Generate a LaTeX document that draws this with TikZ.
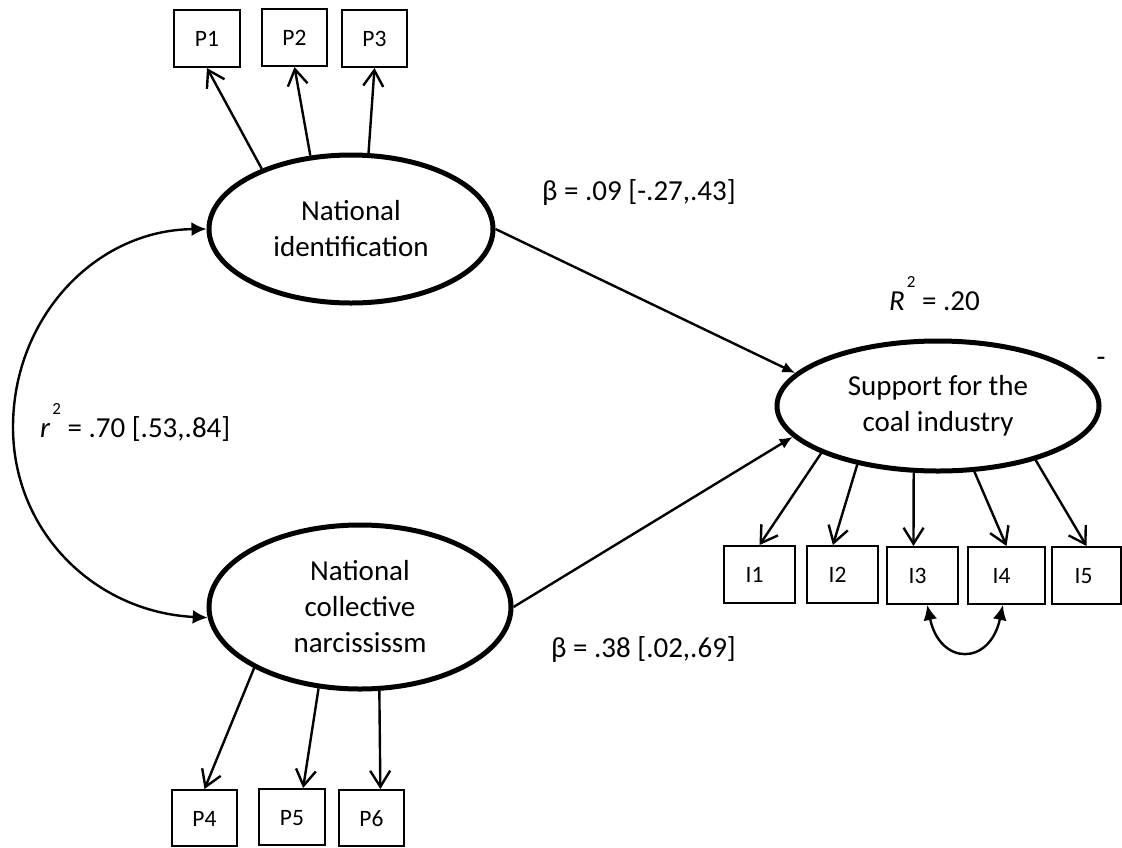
\documentclass[tikz,border=0pt]{standalone}
\usepackage{fontspec}
\setmainfont{Carlito}
\usetikzlibrary{shapes.geometric,arrows.meta,calc}

\tikzset{
  latent/.style={ellipse, draw, line width=5pt, inner sep=0pt, align=center,
    font=\fontsize{29}{36}\selectfont},
  obs/.style={rectangle, draw, line width=2pt, inner sep=0pt,
    minimum width=65pt, minimum height=57pt, text height=16pt, text depth=0pt,
    font=\fontsize{23.5}{27}\selectfont},
  loadarrow/.style={line width=2.4pt, -{Straight Barb[length=16pt,width=20pt]}},
  regpath/.style={line width=2.4pt, -{Latex[length=13pt,width=11pt]}},
  covarc/.style={line width=2.4pt, {Latex[length=15pt,width=14pt]}-{Latex[length=15pt,width=14pt]}},
  lbl/.style={inner sep=0pt, font=\fontsize{29}{36}\selectfont},
}
% raised, small "2" after an italic letter
\newcommand{\supii}{\hspace{2pt}\raisebox{23pt}{\fontsize{17}{17}\selectfont 2}}

\begin{document}
\begin{tikzpicture}[x=1pt, y=-1pt]
\useasboundingbox (0,0) rectangle (1122,847);

% latent variables
\node[latent, minimum width=284pt, minimum height=148pt] (NI) at (351,229) {National\\identification};
\node[latent, minimum width=302pt, minimum height=164pt] (NCN) at (360,607) {National\\collective\\narcississm};
\node[latent, minimum width=322pt, minimum height=130pt] (SC) at (938,406) {Support for the\\coal industry};

% indicators
\node[obs, minimum width=66pt] (P1) at (207,38.5) {P1};
\node[obs] (P2) at (294.5,37.5) {P2};
\node[obs] (P3) at (374.5,38.5) {P3};
\node[obs, minimum height=56pt] (P4) at (204.5,818) {P4};
\node[obs, minimum width=66pt, minimum height=56pt] (P5) at (292,817) {P5};
\node[obs, minimum height=56pt] (P6) at (371.5,818) {P6};
\node[obs, minimum width=71pt] (I1) at (759.5,574.5) {\hspace{-10pt}I1};
\node[obs, minimum width=71pt] (I2) at (842.5,574.5) {\hspace{-10pt}I2};
\node[obs, minimum width=71pt] (I3) at (922.5,575.5) {\hspace{-10pt}I3};
\node[obs, minimum width=77pt] (I4) at (1006.5,575.5) {\hspace{-10pt}I4};
\node[obs, minimum width=69pt] (I5) at (1086.5,575.5) {\hspace{-6pt}I5};

% loadings
\draw[loadarrow] (NI.146) -- (P1.south);
\draw[loadarrow] (NI.119) -- (P2.south);
\draw[loadarrow] (NI.77) -- (P3.south);
\draw[loadarrow] (NCN.210) -- (P4.north);
\draw[loadarrow] (NCN.243) -- (P5.69);
\draw[loadarrow] (NCN.283) -- (P6.73);
\draw[loadarrow] (SC.202) -- (I1.north);
\draw[loadarrow] (SC.216) -- (I2.108);
\draw[loadarrow] (SC.250) -- (I3.107);
\draw[loadarrow] (SC.299) -- (I4.north);
\draw[loadarrow] (SC.331) -- (I5.north);

% structural paths
\draw[regpath] (NI.east) -- (SC.167);
\draw[regpath] (NCN.east) -- (SC.192);

% covariances
\draw[covarc] (NI.west) .. controls (95,230) and (13,318) .. (13,427)
  .. controls (13,532) and (95,612) .. (NCN.184);
\draw[covarc] (I3.279) .. controls (940,666) and (990,666) .. (I4.263);

% estimates
\node[lbl] (b1) at (639,193) {β = .09 [-.27,.43]};
\node[lbl] (b2) at (643.5,650) {β = .38 [.02,.69]};
\node[lbl, anchor=west] (rr) at (40,422) {\textit{r}\supii{} = .70 [.53,.84]};
\node[lbl, anchor=west] (RR) at (889,294) {\textit{R}\supii{} = .20};
\node[lbl] (dash) at (1101,362) {-};
\end{tikzpicture}
\end{document}
